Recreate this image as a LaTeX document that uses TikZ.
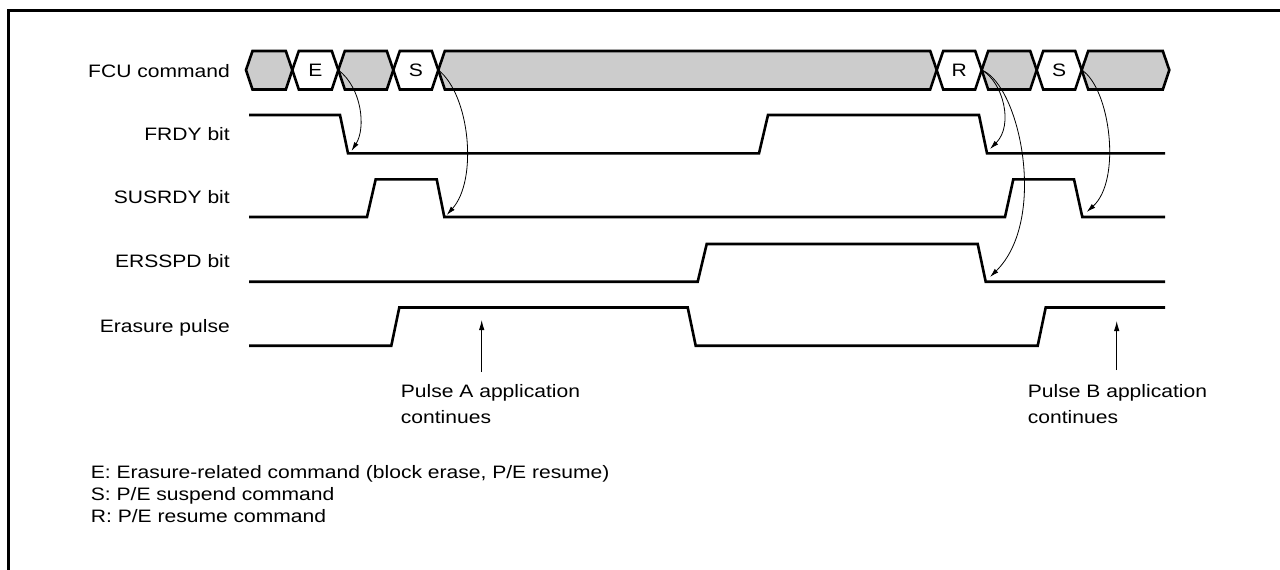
\documentclass[tikz,border=0pt]{standalone}
\usepackage{fontspec}
\setmainfont{Liberation Sans}[FakeStretch=1.17]
\usetikzlibrary{arrows.meta}
\begin{document}
\begin{tikzpicture}[x=1pt,y=-1pt,
  sig/.style={line width=2.6pt,line join=miter},
  bus/.style={line width=2.6pt,line join=miter},
  busgray/.style={bus,fill=black!20},
  buswhite/.style={bus,fill=white},
  lbl/.style={anchor=base east,inner sep=0pt,font=\fontsize{18}{22}\selectfont},
  txt/.style={anchor=base west,inner sep=0pt,font=\fontsize{18}{22}\selectfont},
  letter/.style={inner sep=0pt,font=\fontsize{18}{22}\selectfont},
  curv/.style={line width=0.8pt,-{Latex[length=9pt,width=5pt]}},
  vup/.style={line width=0.9pt,-{Latex[length=10pt,width=5.5pt]}}]
\useasboundingbox (0,0) rectangle (1280,570);
\fill[white] (0,0) rectangle (1280,570);
% frame
\draw[line width=3pt] (8,570) -- (8,10.5) -- (1280,10.5);

% signal labels
\node[lbl] (lfcu) at (230,77.5) {FCU command};
\node[lbl] (lfrdy) at (230,140.5) {FRDY bit};
\node[lbl] (lsus) at (230,203.5) {SUSRDY bit};
\node[lbl] (lers) at (230,267.5) {ERSSPD bit};
\node[lbl] (lpul) at (230,332.5) {Erasure pulse};

% bus crossings
\coordinate (c0) at (246,70);
\coordinate (c1) at (292.3,70);
\coordinate (c2) at (338.3,70);
\coordinate (c3) at (393.3,70);
\coordinate (c4) at (438.3,70);
\coordinate (c5) at (936.7,70);
\coordinate (c6) at (981.7,70);
\coordinate (c7) at (1036.7,70);
\coordinate (c8) at (1081.7,70);
\coordinate (c9) at (1169.3,70);
\def\hexseg#1#2#3{\draw[#3] (#1,70) -- (#1+6.5,51) -- (#2-6.5,51) -- (#2,70) -- (#2-6.5,89.5) -- (#1+6.5,89.5) -- cycle;}
\hexseg{246}{292.3}{busgray}
\hexseg{292.3}{338.3}{buswhite}
\hexseg{338.3}{393.3}{busgray}
\hexseg{393.3}{438.3}{buswhite}
\hexseg{438.3}{936.7}{busgray}
\hexseg{936.7}{981.7}{buswhite}
\hexseg{981.7}{1036.7}{busgray}
\hexseg{1036.7}{1081.7}{buswhite}
\hexseg{1081.7}{1169.3}{busgray}
\node[letter] (bE) at (315.3,70) {E};
\node[letter] (bS1) at (415.8,70) {S};
\node[letter] (bR) at (959.2,70) {R};
\node[letter] (bS2) at (1059.2,70) {S};

% FRDY
\draw[sig] (249,115) -- (340,115) -- (348,153.3) -- (759,153.3) -- (768,115) -- (979,115) -- (987,153.3) -- (1165,153.3);
% SUSRDY
\draw[sig] (249,217) -- (367,217) -- (375.7,179.3) -- (436.7,179.3) -- (444.3,217) -- (1005,217) -- (1013.3,179.3) -- (1074,179.3) -- (1082.3,217) -- (1165,217);
% ERSSPD
\draw[sig] (249,281.7) -- (697.7,281.7) -- (706.7,244) -- (977.7,244) -- (985.7,281.7) -- (1165,281.7);
% Erasure pulse
\draw[sig] (249,345.7) -- (391.3,345.7) -- (399.3,307.5) -- (687.7,307.5) -- (695.7,345.7) -- (1037.7,345.7) -- (1045.7,307.5) -- (1165,307.5);

% arrow targets
\coordinate (t1) at (351.5,151);
\coordinate (t2) at (446.7,215);
\coordinate (t3) at (990,149);
\coordinate (t4) at (990,277);
\coordinate (t5) at (1086.7,212);

\draw[curv] (c2) .. controls (362,88) and (366,128) .. (t1);
\draw[curv] (c4) .. controls (470,95) and (478,180) .. (t2);
\draw[curv] (c6) .. controls (1003,82) and (1014,125) .. (t3);
\draw[curv] (c6) .. controls (1020,85) and (1048,220) .. (t4);
\draw[curv] (c8) .. controls (1110,88) and (1122,180) .. (t5);

% pulse annotations
\coordinate (aA) at (481.7,372);
\coordinate (tA) at (481.7,320);
\coordinate (aB) at (1116.7,370);
\coordinate (tB) at (1116.7,321);
\draw[vup] (aA) -- (tA);
\draw[vup] (aB) -- (tB);
\node[txt] (pA1) at (400.7,397) {Pulse A application};
\node[txt] (pA2) at (400.7,423) {continues};
\node[txt] (pB1) at (1027.7,397) {Pulse B application};
\node[txt] (pB2) at (1027.7,423) {continues};

% legend
\node[txt] (leg1) at (90.7,478) {E: Erasure-related command (block erase, P/E resume)};
\node[txt] (leg2) at (90.7,500) {S: P/E suspend command};
\node[txt] (leg3) at (90.7,522) {R: P/E resume command};
\end{tikzpicture}
\end{document}
